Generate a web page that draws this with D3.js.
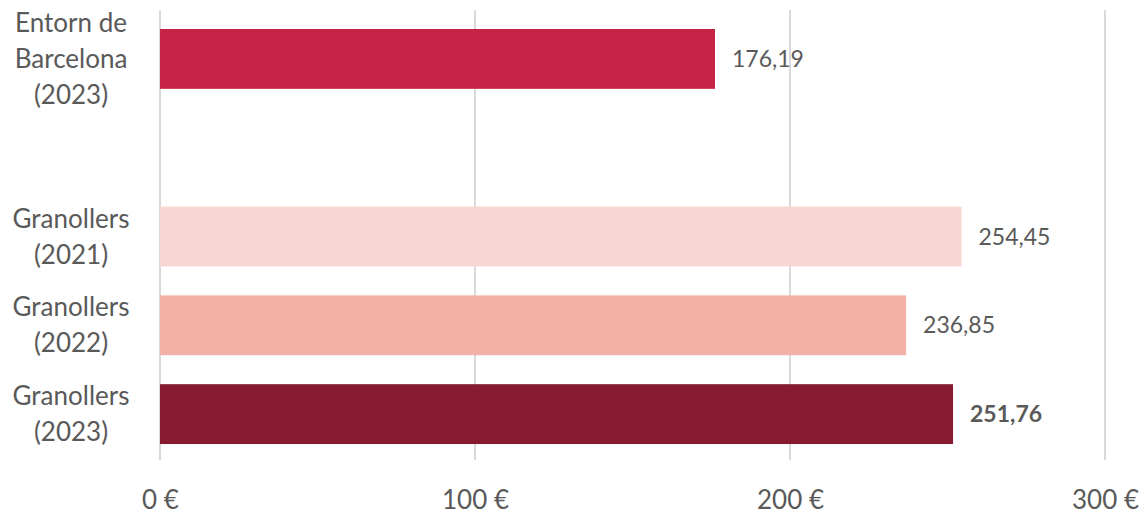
<!DOCTYPE html>
<html>
<head>
<meta charset="utf-8">
<script src="https://cdn.jsdelivr.net/npm/d3@7"></script>
<style>
  body { margin: 0; background: #fff; }
  svg text { font-family: Lato, "Open Sans", sans-serif; fill: #595959; }
</style>
</head>
<body>
<svg class="main" width="1147" height="514"></svg>
<script>
// chart data
var CATEGORIES = ["Entorn de|Barcelona|(2023)", "", "Granollers|(2021)", "Granollers|(2022)", "Granollers|(2023)"];
var VALUES = [176.19, null, 254.45, 236.85, 251.76];
var LABELS = ["176,19", "", "254,45", "236,85", "251,76"];
var COLORS = ["#C42345", null, "#F8D7D3", "#F2B0A7", "#861A30"];
var TICKS = [0, 100, 200, 300];

var svg = d3.select("svg.main");

var x = d3.scaleLinear().domain([0, 300]).range([160, 1105]);
var y = d3.scaleBand()
  .domain(d3.range(CATEGORIES.length))
  .range([14.5, 458.5])
  .paddingInner(0.326)
  .paddingOuter(0.163);

// gridlines
svg.append("g").selectAll("line")
  .data(TICKS)
  .enter().append("line")
  .attr("x1", function(d) { return x(d); })
  .attr("x2", function(d) { return x(d); })
  .attr("y1", 10)
  .attr("y2", 460)
  .attr("stroke", "#D9D9D9")
  .attr("stroke-width", 2);

// x tick labels
var xAxis = d3.axisBottom(x)
  .tickValues(TICKS)
  .tickSize(0)
  .tickPadding(0)
  .tickFormat(function(d) { return d + " €"; });

var gx = svg.append("g")
  .attr("transform", "translate(0,500)")
  .call(xAxis);
gx.select(".domain").remove();
gx.selectAll("text")
  .attr("dy", "0.35em")
  .style("font-size", "26px")
  .style("font-family", "Lato, 'Open Sans', sans-serif")
  .attr("fill", "#595959");

// bars
var rows = CATEGORIES.map(function(c, i) {
  return { cat: c, value: VALUES[i], label: LABELS[i], color: COLORS[i], i: i };
});

svg.append("g").selectAll("rect")
  .data(rows.filter(function(d) { return d.value != null; }))
  .enter().append("rect")
  .attr("x", x(0))
  .attr("y", function(d) { return y(d.i); })
  .attr("width", function(d) { return x(d.value) - x(0); })
  .attr("height", y.bandwidth())
  .attr("fill", function(d) { return d.color; });

// value labels
svg.append("g").selectAll("text")
  .data(rows.filter(function(d) { return d.value != null; }))
  .enter().append("text")
  .attr("x", function(d) { return x(d.value) + 17; })
  .attr("y", function(d) { return y(d.i) + y.bandwidth() / 2; })
  .attr("dy", "0.35em")
  .style("font-size", "23px")
  .style("font-weight", function(d) { return d.i == 4 ? "bold" : "normal"; })
  .text(function(d) { return d.label; });

// category labels (multi-line)
var lineH = 36;
var cats = svg.append("g").selectAll("text")
  .data(rows.filter(function(d) { return d.cat != ""; }))
  .enter().append("text")
  .attr("text-anchor", "middle")
  .style("font-size", "26px")
  .attr("transform", function(d) {
    var n = d.cat.split("|").length;
    var cy = y(d.i) + y.bandwidth() / 2 - (n - 1) * lineH / 2;
    return "translate(71," + cy + ")";
  });

cats.each(function(d) {
  var t = d3.select(this);
  d.cat.split("|").forEach(function(s, k) {
    t.append("tspan")
      .attr("x", 0)
      .attr("y", k * lineH)
      .attr("dy", "0.35em")
      .text(s);
  });
});
</script>
</body>
</html>
